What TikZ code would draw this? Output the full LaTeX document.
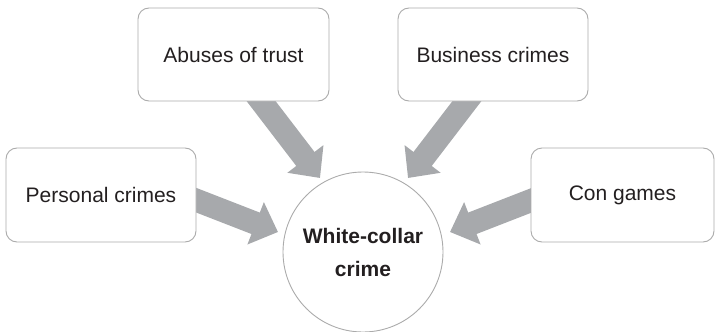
\documentclass[tikz,border=0pt]{standalone}
\usepackage{fontspec}
\setmainfont{Liberation Sans}
\usetikzlibrary{arrows.meta,calc,backgrounds}
\definecolor{arrowgray}{HTML}{A7A9AC}
\definecolor{bordergray}{HTML}{ABABAB}
\definecolor{textdark}{HTML}{231F20}
\tikzset{
  boxnode/.style={draw=bordergray, line width=0.9pt, fill=white, rounded corners=11pt,
    inner sep=0pt, text=textdark, font=\fontsize{21}{25}\selectfont},
  bigarrow/.style={draw=arrowgray, line width=23pt,
    -{Triangle[length=24pt,width=44pt,fill=arrowgray]}},
}
\begin{document}
\begin{tikzpicture}[x=1pt,y=-1pt]
\useasboundingbox (0,0) rectangle (715,332);
\node[boxnode, minimum width=190pt, minimum height=94pt] (pc) at (101,195) {Personal crimes};
\node[boxnode, minimum width=191pt, minimum height=93pt] (ab) at (233.5,54.5) {Abuses of trust};
\node[boxnode, minimum width=190pt, minimum height=93pt] (bc) at (493,54.5) {Business crimes};
\node[boxnode, minimum width=183pt, minimum height=94pt] (cg) at (622.5,195) {Con games};
\node[circle, draw=bordergray, line width=0.9pt, fill=white, minimum size=160pt, inner sep=0pt,
  text=textdark, font=\fontsize{21}{33}\selectfont\bfseries, align=center] (wc) at (363,252) {White-collar\\crime};
\coordinate (s1) at (197,200.5);
\coordinate (t1) at (278,232);
\coordinate (s2) at (261,101);
\coordinate (t2) at (320,178);
\coordinate (s3) at (467,101);
\coordinate (t3) at (408,178);
\coordinate (s4) at (531,200.5);
\coordinate (t4) at (450,232);
\begin{scope}[on background layer]
\draw[bigarrow] ($(s1)!-14pt!(t1)$) -- (t1);
\draw[bigarrow] ($(s2)!-14pt!(t2)$) -- (t2);
\draw[bigarrow] ($(s3)!-14pt!(t3)$) -- (t3);
\draw[bigarrow] ($(s4)!-14pt!(t4)$) -- (t4);
\end{scope}
\end{tikzpicture}
\end{document}
